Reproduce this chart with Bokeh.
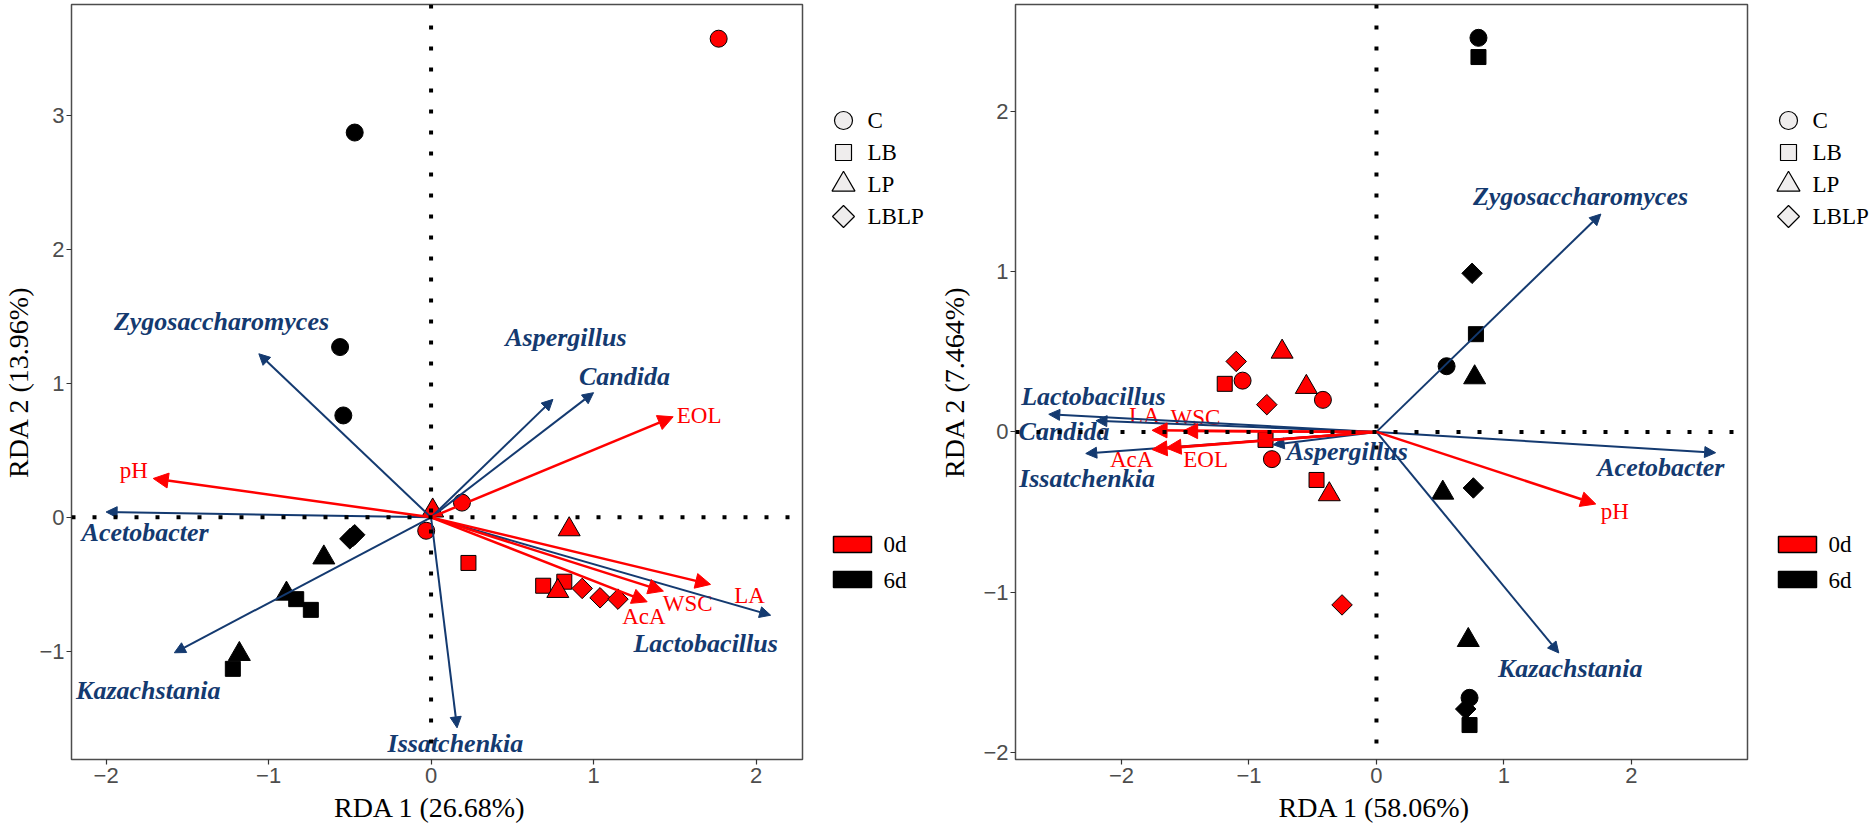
import numpy as np
from bokeh.plotting import figure
from bokeh.models import ColumnDataSource, Range1d, FixedTicker, Span, Arrow, NormalHead
from bokeh.layouts import row
from bokeh.core.properties import value
from bokeh.embed import file_html
from bokeh.resources import INLINE

# ---------------- data ----------------
groups = ["C", "LB", "LP", "LBLP"]
days = ["0d", "6d"]

# Panel A (left)
a_day = ["0d"] * 12 + ["6d"] * 12
a_group = (["C"] * 3 + ["LB"] * 3 + ["LP"] * 3 + ["LBLP"] * 3) * 2
a_x = [1.77, 0.19, -0.03, 0.23, 0.69, 0.82, 0.01, 0.85, 0.78, 0.93, 1.04, 1.15,
       -0.47, -0.56, -0.54, -0.83, -0.74, -1.22, -0.66, -0.89, -1.18, -0.50, -0.48, -0.47]
a_y = [3.57, 0.11, -0.10, -0.34, -0.51, -0.48, 0.05, -0.09, -0.55, -0.53, -0.60, -0.61,
       2.87, 1.27, 0.76, -0.61, -0.69, -1.13, -0.30, -0.57, -1.02, -0.16, -0.14, -0.13]

a_sp_names = ["Zygosaccharomyces", "Aspergillus", "Candida", "Acetobacter",
              "Kazachstania", "Issatchenkia", "Lactobacillus"]
a_sp_x = [-1.06, 0.75, 1.00, -2.00, -1.58, 0.16, 2.09]
a_sp_y = [1.22, 0.88, 0.93, 0.04, -1.01, -1.57, -0.73]
a_sp_lx = [-1.29, 0.83, 1.19, -1.76, -1.74, 0.15, 1.69]
a_sp_ly = [1.46, 1.34, 1.05, -0.11, -1.29, -1.69, -0.94]

a_env_names = ["pH", "EOL", "LA", "WSC", "AcA"]
a_env_x = [-1.71, 1.49, 1.72, 1.43, 1.33]
a_env_y = [0.29, 0.75, -0.50, -0.55, -0.63]
a_env_lx = [-1.83, 1.65, 1.96, 1.58, 1.31]
a_env_ly = [0.35, 0.76, -0.58, -0.64, -0.74]

a_xlabel = "RDA  1  (26.68%)"
a_ylabel = "RDA 2 (13.96%)"
a_xticks = [-2, -1, 0, 1, 2]
a_yticks = [-1, 0, 1, 2, 3]

# Panel B (right)
b_day = ["0d"] * 12 + ["6d"] * 12
b_group = (["C"] * 3 + ["LB"] * 3 + ["LP"] * 3 + ["LBLP"] * 3) * 2
b_x = [-1.05, -0.42, -0.82, -1.19, -0.87, -0.47, -0.74, -0.55, -0.37, -1.10, -0.86, -0.27,
       0.80, 0.55, 0.73, 0.80, 0.78, 0.73, 0.77, 0.52, 0.72, 0.75, 0.76, 0.70]
b_y = [0.32, 0.20, -0.17, 0.30, -0.05, -0.30, 0.50, 0.28, -0.39, 0.44, 0.17, -1.08,
       2.46, 0.41, -1.66, 2.34, 0.61, -1.83, 0.34, -0.38, -1.30, 0.99, -0.35, -1.73]

b_sp_names = ["Zygosaccharomyces", "Aspergillus", "Candida", "Acetobacter",
              "Kazachstania", "Issatchenkia", "Lactobacillus"]
b_sp_x = [1.76, -0.81, -2.20, 2.66, 1.43, -2.28, -2.57]
b_sp_y = [1.36, -0.08, 0.07, -0.13, -1.38, -0.135, 0.11]
b_sp_lx = [1.60, -0.23, -2.45, 2.23, 1.52, -2.27, -2.22]
b_sp_ly = [1.47, -0.12, 0.00, -0.22, -1.48, -0.29, 0.22]

b_env_names = ["pH", "LA", "WSC", "AcA", "EOL"]
b_env_x = [1.72, -1.76, -1.52, -1.76, -1.65]
b_env_y = [-0.45, 0.01, 0.005, -0.11, -0.10]
b_env_lx = [1.87, -1.82, -1.42, -1.92, -1.34]
b_env_ly = [-0.50, 0.10, 0.09, -0.17, -0.17]

b_xlabel = "RDA  1  (58.06%)"
b_ylabel = "RDA 2 (7.464%)"
b_xticks = [-2, -1, 0, 1, 2]
b_yticks = [-2, -1, 0, 1, 2]

# ---------------- styles ----------------
DAY_COLOR = {"0d": "#FF0000", "6d": "#000000"}
MARKER = {"C": "circle", "LB": "square", "LP": "triangle", "LBLP": "square"}
SIZE = {"C": 17, "LB": 15, "LP": 22, "LBLP": 14.5}
ANGLE = {"C": 0.0, "LB": 0.0, "LP": 0.0, "LBLP": np.pi / 4}
BLUE = "#143A70"
RED = "#FF0000"
SERIF = "Liberation Serif"
SANS = "Liberation Sans"
FIG_H = 828
TOP = 4
BOTTOM = 69
FRAME_H = FIG_H - TOP - BOTTOM


def panel(xr, yr, day, grp, xs, ys, spn, spx, spy, splx, sply,
          evn, evx, evy, evlx, evly, xlabel, ylabel, xticks, yticks, width, left, ystand):
    p = figure(width=width, height=FIG_H, x_range=Range1d(*xr), y_range=Range1d(*yr),
               toolbar_location=None, output_backend="svg",
               min_border_left=left, min_border_right=20, min_border_top=TOP,
               min_border_bottom=BOTTOM)
    p.grid.visible = False
    p.outline_line_color = "#4D4D4D"
    p.outline_line_width = 1.5
    for ax, lab, tk in ((p.xaxis, xlabel, xticks), (p.yaxis, ylabel, yticks)):
        ax.ticker = FixedTicker(ticks=tk)
        ax.axis_label = lab
        ax.axis_label_text_font = SERIF
        ax.axis_label_text_font_style = "normal"
        ax.axis_label_text_font_size = "28px"
        ax.axis_label_text_color = "#000000"
        ax.major_label_text_font = SANS
        ax.major_label_text_font_size = "22px"
        ax.major_label_text_color = "#4D4D4D"
        ax.major_tick_line_color = "#333333"
        ax.major_tick_line_width = 1.2
        ax.major_tick_out = 5
        ax.major_tick_in = 0
        ax.minor_tick_line_color = None
        ax.axis_line_color = None
    p.xaxis.axis_label_standoff = 6
    p.xaxis.major_label_standoff = 3
    p.yaxis.axis_label_standoff = ystand
    p.yaxis.major_label_standoff = 2

    src = ColumnDataSource(dict(
        x=xs, y=ys,
        marker=[MARKER[g] for g in grp],
        size=[SIZE[g] for g in grp],
        angle=[ANGLE[g] for g in grp],
        fill=[DAY_COLOR[d] for d in day],
    ))
    p.scatter(x="x", y="y", marker="marker", size="size", angle="angle",
              fill_color="fill", line_color="#000000", line_width=1, source=src)

    sp_src = ColumnDataSource(dict(x0=[0.0] * len(spx), y0=[0.0] * len(spy), x1=spx, y1=spy))
    p.add_layout(Arrow(x_start="x0", y_start="y0", x_end="x1", y_end="y1", source=sp_src,
                       line_color=BLUE, line_width=2,
                       end=NormalHead(size=11, fill_color=BLUE, line_color=BLUE, line_width=1)))
    ev_src = ColumnDataSource(dict(x0=[0.0] * len(evx), y0=[0.0] * len(evy), x1=evx, y1=evy))
    p.add_layout(Arrow(x_start="x0", y_start="y0", x_end="x1", y_end="y1", source=ev_src,
                       line_color=RED, line_width=2.5,
                       end=NormalHead(size=15, fill_color=RED, line_color=RED, line_width=1)))

    p.text(x=splx, y=sply, text=spn, text_font=value(SERIF), text_font_style="bold italic",
           text_font_size="26px", text_color=BLUE, text_align="center",
           text_baseline="middle", level="annotation")
    p.text(x=evlx, y=evly, text=evn, text_font=value(SERIF), text_font_style="normal",
           text_font_size="23px", text_color=RED, text_align="center",
           text_baseline="middle", level="annotation")

    for dim in ("height", "width"):
        p.add_layout(Span(location=0, dimension=dim, line_color="#000000",
                          line_width=4, line_dash="4 17"))
    return p


def legend_fig(width):
    lg = figure(width=width, height=FIG_H, x_range=Range1d(0, width),
                y_range=Range1d(FRAME_H, 0),
                toolbar_location=None, output_backend="svg",
                min_border_left=0, min_border_right=0, min_border_top=TOP,
                min_border_bottom=BOTTOM,
                x_axis_location=None, y_axis_location=None)
    lg.grid.visible = False
    lg.outline_line_color = None
    n = len(groups)
    ly = [116 + 32 * i for i in range(n)]
    lsrc = ColumnDataSource(dict(
        x=[21] * n, y=ly,
        marker=[MARKER[g] for g in groups],
        size=[18, 16, 23, 15.5],
        angle=[ANGLE[g] for g in groups],
    ))
    lg.scatter(x="x", y="y", marker="marker", size="size", angle="angle",
               fill_color="#EFEDED", line_color="#000000", line_width=1.2, source=lsrc)
    lg.text(x=[45] * n, y=ly, text=groups, text_font=value(SERIF), text_font_size="23px",
            text_color="#000000", text_align="left", text_baseline="middle")
    dy = [540, 575]
    lg.rect(x=[30] * 2, y=dy, width=38, height=16,
            fill_color=[DAY_COLOR[d] for d in days],
            line_color="#000000", line_width=1.5)
    lg.text(x=[61] * 2, y=[540, 576], text=days, text_font=value(SERIF),
            text_font_size="23px", text_color="#000000", text_align="left",
            text_baseline="middle")
    return lg


pA = panel((-2.213, 2.286), (-1.806, 3.825), a_day, a_group, a_x, a_y,
           a_sp_names, a_sp_x, a_sp_y, a_sp_lx, a_sp_ly,
           a_env_names, a_env_x, a_env_y, a_env_lx, a_env_ly,
           a_xlabel, a_ylabel, a_xticks, a_yticks, width=822, left=70, ystand=2)
pB = panel((-2.831, 2.910), (-2.045, 2.668), b_day, b_group, b_x, b_y,
           b_sp_names, b_sp_x, b_sp_y, b_sp_lx, b_sp_ly,
           b_env_names, b_env_x, b_env_y, b_env_lx, b_env_ly,
           b_xlabel, b_ylabel, b_xticks, b_yticks, width=832, left=80, ystand=10)

layout = row(pA, legend_fig(113), pB, legend_fig(104), spacing=0)
open("out.html", "w").write(file_html(layout, INLINE))
